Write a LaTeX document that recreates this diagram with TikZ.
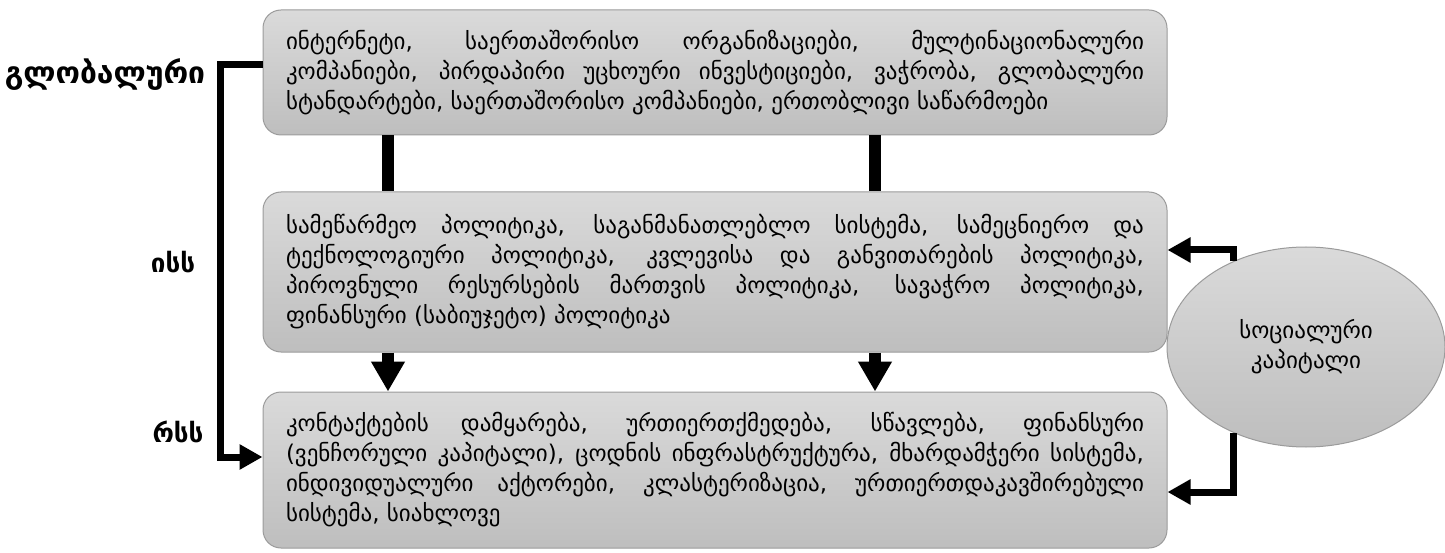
\documentclass[tikz,border=0pt]{standalone}
\usepackage{fontspec}
\setmainfont{DejaVu Sans}
\usetikzlibrary{arrows.meta, shapes, positioning}
\usepackage{xcolor}
\definecolor{boxtop}{RGB}{218,218,218}
\definecolor{boxbottom}{RGB}{190,190,190}
\definecolor{boxedge}{RGB}{155,155,155}
\hyphenpenalty=10000

\begin{document}
\begin{tikzpicture}[
        line join=miter,
        levelbox/.style={shape=rectangle, rounded corners=18pt, draw=boxedge, line width=1pt,
            top color=boxtop, bottom color=boxbottom, text width=858pt, inner xsep=23pt,
            align=justify, font=\fontsize{23}{30}\selectfont},
        capnode/.style={shape=ellipse, draw=boxedge, line width=1pt, top color=boxtop,
            bottom color=boxbottom, minimum width=278pt, minimum height=200pt, align=center,
            font=\fontsize{23}{30}\selectfont},
        levellabel/.style={font=\bfseries\fontsize{26}{30}\selectfont},
        bar/.style={line width=12pt},
        flow/.style={line width=12pt, -{Triangle[width=32pt, length=30pt]}},
        feed/.style={line width=7pt, -{Triangle[width=24pt, length=23pt]}}
        ]
        \useasboundingbox (0pt, 0pt) rectangle (1445pt, 552pt);

        %% Boxes
        \node[levelbox, minimum height=125pt] (globbox) at (715pt, 479.5pt) {ინტერნეტი, საერთაშორისო ორგანიზაციები, მულტინაციონალური\linebreak კომპანიები, პირდაპირი უცხოური ინვესტიციები, ვაჭრობა, გლობალური\linebreak სტანდარტები, საერთაშორისო კომპანიები, ერთობლივი საწარმოები};
        \node[levelbox, minimum height=160pt] (nisbox) at (715pt, 280pt) {სამეწარმეო პოლიტიკა, საგანმანათლებლო სისტემა, სამეცნიერო და\linebreak ტექნოლოგიური პოლიტიკა, კვლევისა და განვითარების პოლიტიკა,\linebreak პიროვნული რესურსების მართვის პოლიტიკა, სავაჭრო პოლიტიკა,\linebreak ფინანსური (საბიუჯეტო) პოლიტიკა};
        \node[levelbox, minimum height=156pt] (risbox) at (715pt, 82pt) {კონტაქტების დამყარება, ურთიერთქმედება, სწავლება, ფინანსური\linebreak (ვენჩორული კაპიტალი), ცოდნის ინფრასტრუქტურა, მხარდამჭერი სისტემა,\linebreak ინდივიდუალური აქტორები, კლასტერიზაცია, ურთიერთდაკავშირებული\linebreak სისტემა, სიახლოვე};
        \node[capnode] (socialcap) at (1306pt, 205pt) {სოციალური\\კაპიტალი};

        %% Labels
        \node[levellabel, font=\bfseries\fontsize{30}{34}\selectfont] (globlabel) at (105pt, 477pt) {გლობალური};
        \node[levellabel] (nislabel) at (173pt, 290pt) {ისს};
        \node[levellabel] (rislabel) at (178pt, 120pt) {რსს};

        %% Connectors
        \draw[bar] ([xshift=-327pt]globbox.south) -- ([xshift=-327pt]nisbox.north);
        \draw[bar] ([xshift=160pt]globbox.south) -- ([xshift=160pt]nisbox.north);
        \draw[flow] ([xshift=-327pt]nisbox.south) -- ([xshift=-327pt]risbox.north);
        \draw[flow] ([xshift=160pt]nisbox.south) -- ([xshift=160pt]risbox.north);
        \draw[feed] ([yshift=8pt]globbox.west) -- ++(-42pt, 0pt) |- ([yshift=13pt]risbox.west);
        \draw[feed] (socialcap.130) |- ([yshift=22pt]nisbox.east);
        \draw[feed] (socialcap.230) |- ([yshift=-22pt]risbox.east);
\end{tikzpicture}
\end{document}
